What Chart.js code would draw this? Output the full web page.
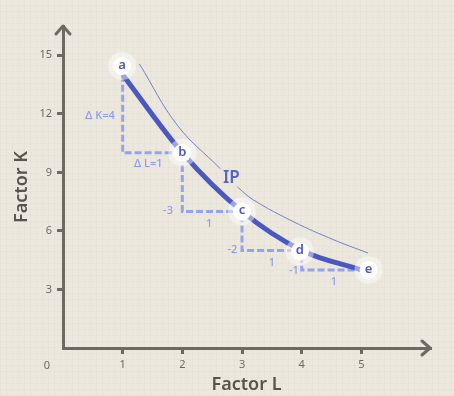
<!DOCTYPE html>
<html>
<head>
<meta charset="utf-8">
<script src="https://cdn.jsdelivr.net/npm/chart.js@4"></script>
<style>
  html, body { margin: 0; padding: 0; }
  body {
    width: 454px; height: 396px; overflow: hidden;
    background-color: #ece8dd;
    background-image:
      repeating-linear-gradient(0deg, rgba(120,110,90,0.035) 0 1px, transparent 1px 6px),
      repeating-linear-gradient(90deg, rgba(120,110,90,0.035) 0 1px, transparent 1px 6px);
  }
</style>
</head>
<body>
<canvas id="ip" width="454" height="396"></canvas>
<script>
// isoquant points a..e
const pointNames = ["a", "b", "c", "d", "e"];
const factorL = [1, 2, 3, 4, 5];
const factorK = [14, 10, 7, 5, 4];
// where the round name tags sit
const tagL = [0.99, 2, 3, 3.97, 5.12];
const tagK = [14.45, 10, 7, 4.95, 4];

// thin outer IP curve (null = gap for the label)
const outerL = [1.28, 1.92, 2.64, null, 2.92, 3.19, 3.87, 4.54, 5.11];
const outerK = [14.56, 11.4, 9.18, null, 8.26, 7.59, 6.46, 5.54, 4.87];

// dashed steps
const stepL = [1, 1, 2, 2, 3, 3, 4, 4, 5];
const stepK = [14, 10, 10, 7, 7, 5, 5, 4, 4];

// step notes
const noteText = ["Δ K=4", "Δ L=1", "-3", "1", "-2", "1", "-1", "1"];
const noteL = [0.62, 1.43, 1.76, 2.45, 2.84, 3.5, 3.87, 4.54];
const noteK = [11.9, 9.44, 7.03, 6.36, 5.03, 4.36, 3.95, 3.38];

const xTicks = [1, 2, 3, 4, 5];
const yTicks = [3, 6, 9, 12, 15];

const axisGray = "#6e6a63";
const blue = "#4b58c0";
const lightBlue = "#8c9bf0";

function pts(xs, ys) {
  return xs.map((x, i) => x === null ? {x: NaN, y: null} : {x: x, y: ys[i]});
}

const extras = {
  id: "extras",
  afterDatasetsDraw(chart) {
    const c = chart.ctx, xs = chart.scales.x, ys = chart.scales.y;
    const a = chart.chartArea;
    c.save();
    // arrow heads
    c.strokeStyle = axisGray; c.lineWidth = 3; c.lineCap = "round"; c.lineJoin = "round";
    c.beginPath();
    c.moveTo(a.left - 7, a.top + 8); c.lineTo(a.left, a.top); c.lineTo(a.left + 7, a.top + 8);
    c.moveTo(a.right - 8, a.bottom - 7); c.lineTo(a.right, a.bottom); c.lineTo(a.right - 8, a.bottom + 7);
    c.stroke();
    // origin label
    c.fillStyle = axisGray; c.font = "11px 'Noto Sans'";
    c.textAlign = "center"; c.textBaseline = "middle";
    c.fillText("0", a.left - 16, a.bottom + 18);
    // step notes
    c.fillStyle = lightBlue; c.font = "500 11px 'Noto Sans'";
    noteText.forEach((t, i) => c.fillText(t, xs.getPixelForValue(noteL[i]), ys.getPixelForValue(noteK[i])));
    // IP label
    c.fillStyle = "#5563c4"; c.font = "600 17px 'Noto Sans'";
    c.fillText("IP", xs.getPixelForValue(2.82), ys.getPixelForValue(8.72));
    // name tags
    c.fillStyle = blue; c.font = "600 13px 'Noto Sans'";
    pointNames.forEach((n, i) => c.fillText(n, xs.getPixelForValue(tagL[i]), ys.getPixelForValue(tagK[i]) - 1));
    c.restore();
  }
};

new Chart("ip", {
  type: "scatter",
  data: {
    datasets: [{
      data: pts(factorL, factorK),
      showLine: true,
      borderColor: blue,
      borderWidth: 5,
      cubicInterpolationMode: "monotone",
      pointRadius: 0,
      order: 3
    }, {
      data: pts(outerL, outerK),
      showLine: true,
      spanGaps: false,
      borderColor: "#7180c8",
      borderWidth: 1,
      tension: 0.4,
      pointRadius: 0,
      order: 4
    }, {
      data: pts(stepL, stepK),
      showLine: true,
      borderColor: "rgba(140,155,240,0.9)",
      borderWidth: 3,
      borderDash: [7, 3],
      tension: 0,
      pointRadius: 0,
      order: 5
    }, {
      data: pts(tagL, tagK),
      pointRadius: 14,
      pointBackgroundColor: "rgba(255,255,255,0.45)",
      pointBorderWidth: 0,
      order: 2
    }, {
      data: pts(tagL, tagK),
      pointRadius: 9,
      pointBackgroundColor: "#ffffff",
      pointBorderWidth: 0,
      order: 1
    }]
  },
  options: {
    responsive: false,
    animation: false,
    events: [],
    layout: {padding: {top: 26, right: 24, left: 0, bottom: 0}},
    plugins: {legend: {display: false}, tooltip: {enabled: false}},
    scales: {
      x: {
        type: "linear", min: 0, max: 6.15,
        afterFit: s => { s.height = 48; },
        afterBuildTicks: s => { s.ticks = [0].concat(xTicks).map(v => ({value: v})); },
        ticks: {
          color: axisGray, font: {size: 11, family: "Noto Sans"}, padding: 4,
          callback: v => v === 0 ? "" : v
        },
        grid: {
          drawOnChartArea: false, drawTicks: true, tickLength: 6, lineWidth: 3,
          color: ctx => ctx.tick && ctx.tick.value === 0 ? "rgba(0,0,0,0)" : axisGray
        },
        border: {color: axisGray, width: 3},
        title: {
          display: true, text: "Factor L", color: "#57534d",
          font: {size: 18, weight: "600", family: "Noto Sans"}, padding: {top: 0, bottom: 0}
        }
      },
      y: {
        type: "linear", min: 0, max: 16.5,
        afterFit: s => { s.width = 63; },
        afterBuildTicks: s => { s.ticks = [0].concat(yTicks).map(v => ({value: v})); },
        ticks: {
          color: axisGray, font: {size: 11, family: "Noto Sans"}, padding: 5,
          callback: v => v === 0 ? "" : v
        },
        grid: {
          drawOnChartArea: false, drawTicks: true, tickLength: 6, lineWidth: 3,
          color: ctx => ctx.tick && ctx.tick.value === 0 ? "rgba(0,0,0,0)" : axisGray
        },
        border: {color: axisGray, width: 3},
        title: {
          display: true, text: "Factor K", color: "#57534d",
          font: {size: 18, weight: "600", family: "Noto Sans"}, padding: {top: 11, bottom: 0}
        }
      }
    }
  },
  plugins: [extras]
});
</script>
</body>
</html>
